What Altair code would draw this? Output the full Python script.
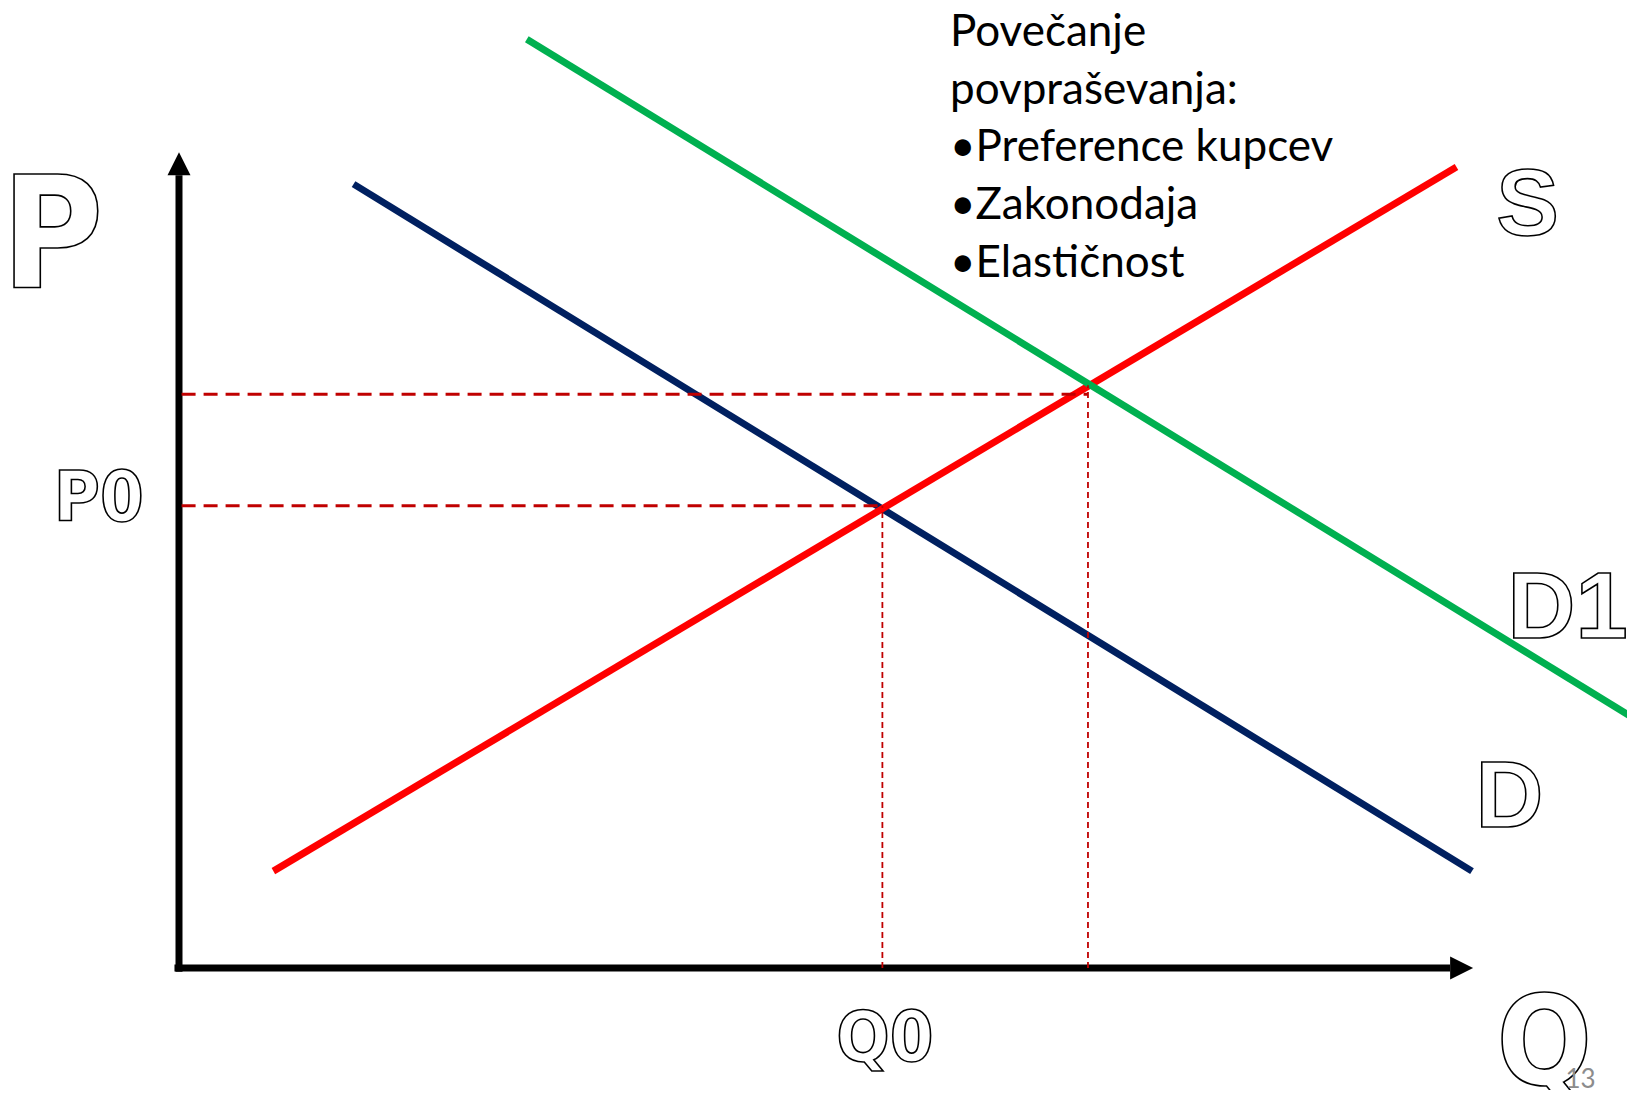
import altair as alt
import pandas as pd

# ---- supply / demand curves (Q, P units; axis origin at 0,0) ----
CURVE_NAMES = ["D", "S", "D1"]
CURVE_COLORS = ["#002060", "#FF0000", "#00B050"]
Q_START = [1.35, 0.73, 2.69]
P_START = [9.63, 1.19, 11.41]
Q_END = [10.0, 9.88, 11.26]
P_END = [1.19, 9.84, 3.06]

# ---- equilibria (dashed guides) ----
EQ_Q = [5.44, 7.03]
EQ_P = [5.68, 7.05]
EQ_P_TOP = [5.68, 7.16]

# ---- axes ----
AXIS_Q_END = 9.83
AXIS_P_END = 9.74
ARROW_Q = 9.92
ARROW_P = 9.88

# ---- outlined labels ----
NARROW_LABELS = ["P", "P0", "Q0", "Q"]
NARROW_Q = [-0.98, -0.62, 5.46, 10.56]
NARROW_P = [8.37, 5.49, -1.14, -1.42]
NARROW_SIZE = [155, 70, 70, 125]

WIDE_LABELS = ["S", "D1", "D"]
WIDE_Q = [10.43, 10.74, 10.29]
WIDE_P = [9.00, 4.05, 1.73]
WIDE_SIZE = [94, 94, 94]

INFO_LINES = ["Povečanje", "povpraševanja:", "•Preference kupcev", "•Zakonodaja", "•Elastičnost"]
INFO_Q = [5.963]
INFO_P = [11.327]

PAGE_LABEL = ["13"]
PAGE_Q = [10.84]
PAGE_P = [-1.48]

X_DOMAIN = [-1.3225, 11.1988]
Y_DOMAIN = [-1.4988, 11.7936]

NARROW_FONT = "Liberation Sans Narrow, DejaVu Sans Condensed, Liberation Sans, Arial, sans-serif"
WIDE_FONT = "Liberation Sans, Arial, Helvetica, sans-serif"

XS = alt.Scale(domain=X_DOMAIN, nice=False, zero=False)
YS = alt.Scale(domain=Y_DOMAIN, nice=False, zero=False)


def X(f):
    return alt.X(f, type="quantitative", scale=XS, axis=None)


def Y(f):
    return alt.Y(f, type="quantitative", scale=YS, axis=None)


curves = pd.DataFrame({"name": CURVE_NAMES, "q": Q_START, "p": P_START,
                       "q2": Q_END, "p2": P_END})

axes_df = pd.DataFrame({"q": [0.0, -0.035], "p": [-0.045, 0.0],
                        "q2": [0.0, AXIS_Q_END], "p2": [AXIS_P_END, 0.0]})

axis_lines = alt.Chart(axes_df).mark_rule(color="black", strokeWidth=7).encode(
    x=X("q"), y=Y("p"), x2="q2", y2="p2")

arrow_up = alt.Chart(pd.DataFrame({"q": [0.0], "p": [ARROW_P]})).mark_point(
    shape="M0,-1L1,1L-1,1Z", size=529, filled=True, color="black", opacity=1
).encode(x=X("q"), y=Y("p"))

arrow_right = alt.Chart(pd.DataFrame({"q": [ARROW_Q], "p": [0.0]})).mark_point(
    shape="M1,0L-1,1L-1,-1Z", size=529, filled=True, color="black", opacity=1
).encode(x=X("q"), y=Y("p"))

curve_layers = []
for i, name in enumerate(CURVE_NAMES):
    curve_layers.append(
        alt.Chart(curves[curves["name"] == name]).mark_rule(
            color=CURVE_COLORS[i], strokeWidth=7, strokeCap="butt", clip=True
        ).encode(x=X("q"), y=Y("p"), x2="q2", y2="p2")
    )

hdash = alt.Chart(pd.DataFrame({"q": [0.02, 0.02], "q2": EQ_Q, "p": EQ_P})).mark_rule(
    color="#C00000", strokeWidth=3, strokeDash=[14, 8]
).encode(x=X("q"), x2="q2", y=Y("p"))

vdash = alt.Chart(pd.DataFrame({"q": EQ_Q, "p": [0.0, 0.0], "p2": EQ_P_TOP})).mark_rule(
    color="#C00000", strokeWidth=1.8, strokeDash=[6, 4]
).encode(x=X("q"), y=Y("p"), y2="p2")

narrow = alt.Chart(pd.DataFrame({"t": NARROW_LABELS, "q": NARROW_Q, "p": NARROW_P,
                                 "s": NARROW_SIZE})).mark_text(
    font=NARROW_FONT, fontWeight="bold", fill="white", stroke="black",
    strokeWidth=1.6, align="center", baseline="alphabetic"
).encode(x=X("q"), y=Y("p"), text="t:N", size=alt.Size("s:Q", scale=None, legend=None))

wide = alt.Chart(pd.DataFrame({"t": WIDE_LABELS, "q": WIDE_Q, "p": WIDE_P,
                               "s": WIDE_SIZE})).mark_text(
    font=WIDE_FONT, fontWeight="bold", fill="white", stroke="black",
    strokeWidth=1.6, align="center", baseline="alphabetic"
).encode(x=X("q"), y=Y("p"), text="t:N", size=alt.Size("s:Q", scale=None, legend=None))

info = alt.Chart(pd.DataFrame({"q": INFO_Q, "p": INFO_P})).mark_text(
    text=INFO_LINES, font="Lato", fontSize=44, lineHeight=57.7, align="left",
    baseline="alphabetic", color="black"
).encode(x=X("q"), y=Y("p"))

page_num = alt.Chart(pd.DataFrame({"t": PAGE_LABEL, "q": PAGE_Q, "p": PAGE_P})).mark_text(
    font="Lato", fontSize=26, align="center", baseline="alphabetic", color="#8C8C8C"
).encode(x=X("q"), y=Y("p"), text="t:N")

chart = alt.layer(
    axis_lines, arrow_up, arrow_right, *curve_layers, hdash, vdash,
    narrow, wide, info, page_num
).properties(
    width=1619, height=1082, padding=0, autosize=alt.AutoSizeParams(type="none"),
    background="white"
).configure_view(stroke=None)

chart.save("out.html", embed_options={"renderer": "svg", "actions": False})
